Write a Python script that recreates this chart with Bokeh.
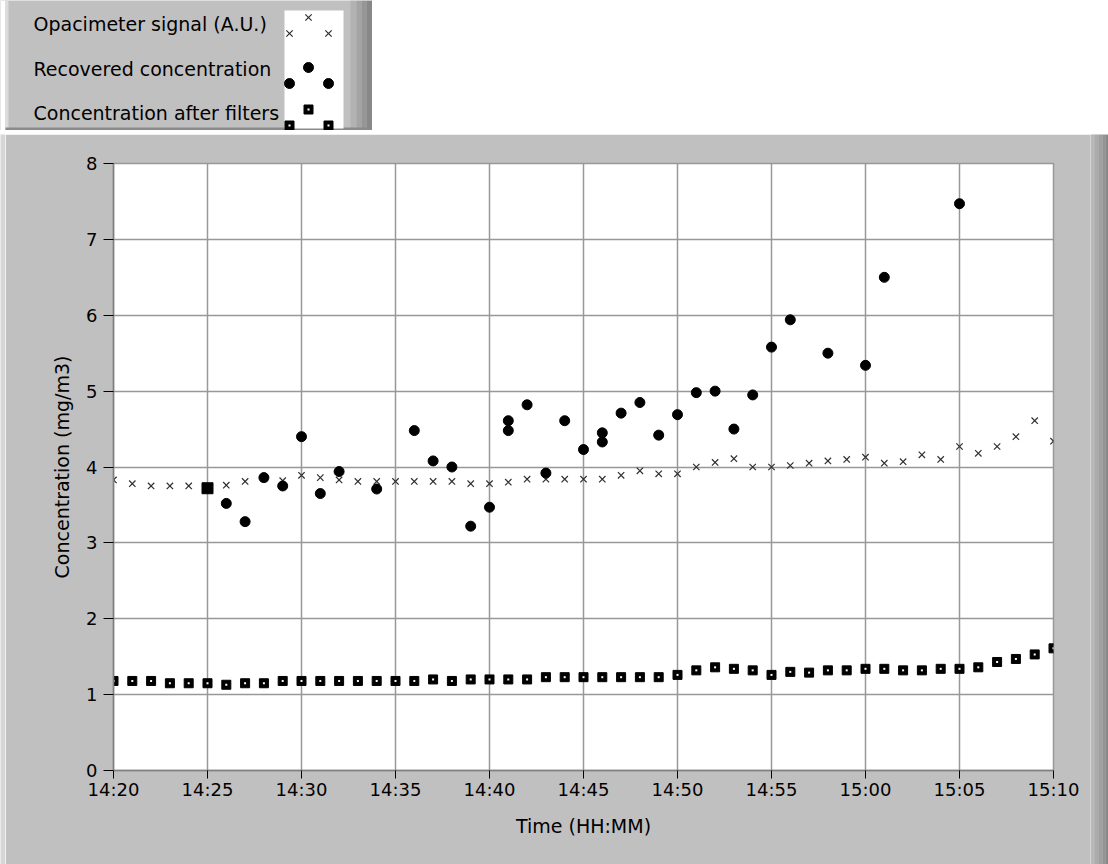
from bokeh.plotting import figure
from bokeh.layouts import column, row
from bokeh.models import Range1d, FixedTicker
from bokeh.core.properties import value
from bokeh.embed import file_html
from bokeh.resources import INLINE

# ---------------- data ----------------
minute_times = [
    "14:20", "14:21", "14:22", "14:23", "14:24", "14:25", "14:26", "14:27", "14:28", "14:29",
    "14:30", "14:31", "14:32", "14:33", "14:34", "14:35", "14:36", "14:37", "14:38", "14:39",
    "14:40", "14:41", "14:42", "14:43", "14:44", "14:45", "14:46", "14:47", "14:48", "14:49",
    "14:50", "14:51", "14:52", "14:53", "14:54", "14:55", "14:56", "14:57", "14:58", "14:59",
    "15:00", "15:01", "15:02", "15:03", "15:04", "15:05", "15:06", "15:07", "15:08", "15:09",
    "15:10",
]
opacimeter_signal = [
    3.83, 3.78, 3.75, 3.75, 3.75, 3.74, 3.76, 3.81, 3.85, 3.82,
    3.89, 3.86, 3.83, 3.81, 3.81, 3.81, 3.81, 3.81, 3.81, 3.78,
    3.78, 3.80, 3.84, 3.84, 3.84, 3.84, 3.84, 3.89, 3.95, 3.91,
    3.91, 4.00, 4.06, 4.11, 4.00, 4.00, 4.02, 4.05, 4.08, 4.10,
    4.13, 4.05, 4.07, 4.16, 4.10, 4.27, 4.18, 4.27, 4.40, 4.61,
    4.34,
]
concentration_after_filters = [
    1.18, 1.18, 1.18, 1.15, 1.15, 1.15, 1.13, 1.15, 1.15, 1.18,
    1.18, 1.18, 1.18, 1.18, 1.18, 1.18, 1.18, 1.20, 1.18, 1.20,
    1.20, 1.20, 1.20, 1.23, 1.23, 1.23, 1.23, 1.23, 1.23, 1.23,
    1.26, 1.32, 1.36, 1.34, 1.32, 1.26, 1.30, 1.29, 1.32, 1.32,
    1.34, 1.34, 1.32, 1.32, 1.34, 1.34, 1.36, 1.43, 1.47, 1.53,
    1.61,
]
recovered_times = [
    "14:25", "14:26", "14:27", "14:28", "14:29", "14:30", "14:31", "14:32", "14:34", "14:36",
    "14:37", "14:38", "14:39", "14:40", "14:41", "14:41", "14:42", "14:43", "14:44", "14:45",
    "14:46", "14:46", "14:47", "14:48", "14:49", "14:50", "14:51", "14:52", "14:53", "14:54",
    "14:55", "14:56", "14:58", "15:00", "15:01", "15:05",
]
recovered_concentration = [
    3.72, 3.52, 3.28, 3.86, 3.75, 4.40, 3.65, 3.94, 3.71, 4.48,
    4.08, 4.00, 3.22, 3.47, 4.61, 4.48, 4.82, 3.92, 4.61, 4.23,
    4.45, 4.33, 4.71, 4.85, 4.42, 4.69, 4.98, 5.00, 4.50, 4.95,
    5.58, 5.94, 5.50, 5.34, 6.50, 7.47,
]
x_tick_labels = ["14:20", "14:25", "14:30", "14:35", "14:40", "14:45",
                 "14:50", "14:55", "15:00", "15:05", "15:10"]
y_tick_labels = ["0", "1", "2", "3", "4", "5", "6", "7", "8"]
series_names = ["Opacimeter signal (A.U.)", "Recovered concentration",
                "Concentration after filters"]
x_axis_title = "Time (HH:MM)"
y_axis_title = "Concentration (mg/m3)"


def to_min(s):
    h, m = s.split(":")
    return int(h) * 60 + int(m)


x_min = [to_min(t) for t in minute_times]
x_rec = [to_min(t) for t in recovered_times]
x_ticks = [to_min(t) for t in x_tick_labels]
y_ticks = [int(v) for v in y_tick_labels]

FONT = "DejaVu Sans"
PANEL = "#c0c0c0"
GRID = "#989898"

W = 1108
H_LEG, W_LEG = 130, 372
H_TOP = 4
H_MAIN = 864 - H_LEG - H_TOP
W_LEFT, W_RIGHT = 5, 18
W_MAIN = W - W_LEFT - W_RIGHT


def blank(width, height, color):
    f = figure(width=width, height=height, output_backend="svg", toolbar_location=None,
               min_border=0, x_axis_location=None, y_axis_location=None,
               x_range=Range1d(0, width), y_range=Range1d(height, 0),
               background_fill_color=color, border_fill_color=color,
               outline_line_color=None)
    f.grid.visible = False
    return f


# ---------------- main graph ----------------
p = figure(width=W_MAIN, height=H_MAIN,
           x_range=Range1d(x_ticks[0], x_ticks[-1]),
           y_range=Range1d(y_ticks[0], y_ticks[-1]),
           output_backend="svg", toolbar_location=None,
           min_border_left=113 - W_LEFT, min_border_right=(W - W_RIGHT) - 1053,
           min_border_top=163 - H_LEG - H_TOP, min_border_bottom=864 - 770,
           background_fill_color="white", border_fill_color=PANEL,
           outline_line_color=GRID, outline_line_width=1.5)

p.xaxis.ticker = FixedTicker(ticks=x_ticks)
p.xaxis.major_label_overrides = {t: l for t, l in zip(x_ticks, x_tick_labels)}
p.yaxis.ticker = FixedTicker(ticks=y_ticks)
p.yaxis.major_label_overrides = {t: l for t, l in zip(y_ticks, y_tick_labels)}

p.xaxis.axis_label = x_axis_title
p.yaxis.axis_label = y_axis_title
for ax in (p.xaxis, p.yaxis):
    ax.axis_label_text_font = FONT
    ax.axis_label_text_font_size = "19px"
    ax.axis_label_text_font_style = "normal"
    ax.axis_label_text_color = "black"
    ax.major_label_text_font = FONT
    ax.major_label_text_font_size = "18px"
    ax.major_label_text_color = "black"
    ax.major_tick_in = 0
    ax.major_tick_line_color = "black"
    ax.major_tick_line_width = 1
    ax.minor_tick_line_color = None
    ax.axis_line_color = "#808080"
    ax.axis_line_width = 1.5
p.xaxis.major_tick_out = 8
p.yaxis.major_tick_out = 10
p.xaxis.major_label_standoff = 0
p.yaxis.major_label_standoff = 6
p.xaxis.axis_label_standoff = 12
p.yaxis.axis_label_standoff = 10

p.grid.grid_line_color = GRID
p.grid.grid_line_width = 1.5

# series
p.scatter(x_min, concentration_after_filters, marker="square", size=9,
          fill_color="black", line_color="black", line_width=1)
p.scatter(x_min, concentration_after_filters, marker="square", size=2,
          fill_color="white", line_color=None)
p.scatter(x_min, opacimeter_signal, marker="x", size=9,
          line_color="#303030", line_width=1.2)
p.scatter(x_rec[:1], recovered_concentration[:1], marker="square", size=11,
          fill_color="black", line_color="black")
p.scatter(x_rec[1:], recovered_concentration[1:], marker="circle", size=10,
          fill_color="black", line_color="black")

# panel edges (3D look)
top_edge = blank(W, H_TOP, "#dedede")
left_edge = blank(W_LEFT, H_MAIN, "#d6d6d6")
right_edge = blank(W_RIGHT, H_MAIN, PANEL)
right_edge.quad(left=[0, 4, 8, 12, 15], right=[4, 8, 12, 15, 18],
                top=[0] * 5, bottom=[H_MAIN] * 5,
                fill_color=["#b8b8b8", "#acacac", "#a0a0a0", "#949494", "#888888"],
                line_color=None)

# ---------------- legend panel ----------------
lg = blank(W_LEG, H_LEG, PANEL)
lg.quad(left=[0], right=[5], top=[0], bottom=[H_LEG], fill_color="white", line_color=None)
lg.quad(left=[5], right=[8], top=[0], bottom=[H_LEG], fill_color="#dcdcdc", line_color=None)
lg.quad(left=[350, 356, 361, 366], right=[356, 361, 366, 372],
        top=[0] * 4, bottom=[H_LEG] * 4,
        fill_color=["#b2b2b2", "#a4a4a4", "#969696", "#888888"], line_color=None)
lg.quad(left=[5], right=[W_LEG], top=[127], bottom=[H_LEG], fill_color="#8a8a8a", line_color=None)

box_l, box_r, box_t, box_b = 284, 343, 10, 128
lg.quad(left=[box_l], right=[box_r], top=[box_t], bottom=[box_b],
        fill_color="white", line_color=None)

row_y = [23, 68, 112]
lg.text(x=[33, 33, 33], y=row_y, text=series_names,
        text_font=value(FONT), text_font_size="19px", text_color="black",
        text_baseline="middle", text_align="left")

mx = [box_l + 5, box_l + 24, box_l + 44]
dy = [9, -7, 9]
lg.scatter(mx, [row_y[0] + 1 + d for d in dy], marker="x", size=9,
           line_color="#303030", line_width=1.2)
lg.scatter(mx, [row_y[1] + 6 + d for d in dy], marker="circle", size=10,
           fill_color="black", line_color="black")
lg.scatter(mx, [row_y[2] + 4 + d for d in dy], marker="square", size=9,
           fill_color="black", line_color="black")
lg.scatter(mx, [row_y[2] + 4 + d for d in dy], marker="square", size=2,
           fill_color="white", line_color=None)

layout = column(row(lg), row(top_edge),
                row(row(left_edge), p, row(right_edge), spacing=0), spacing=0)
open("out.html", "w").write(file_html(layout, INLINE))
